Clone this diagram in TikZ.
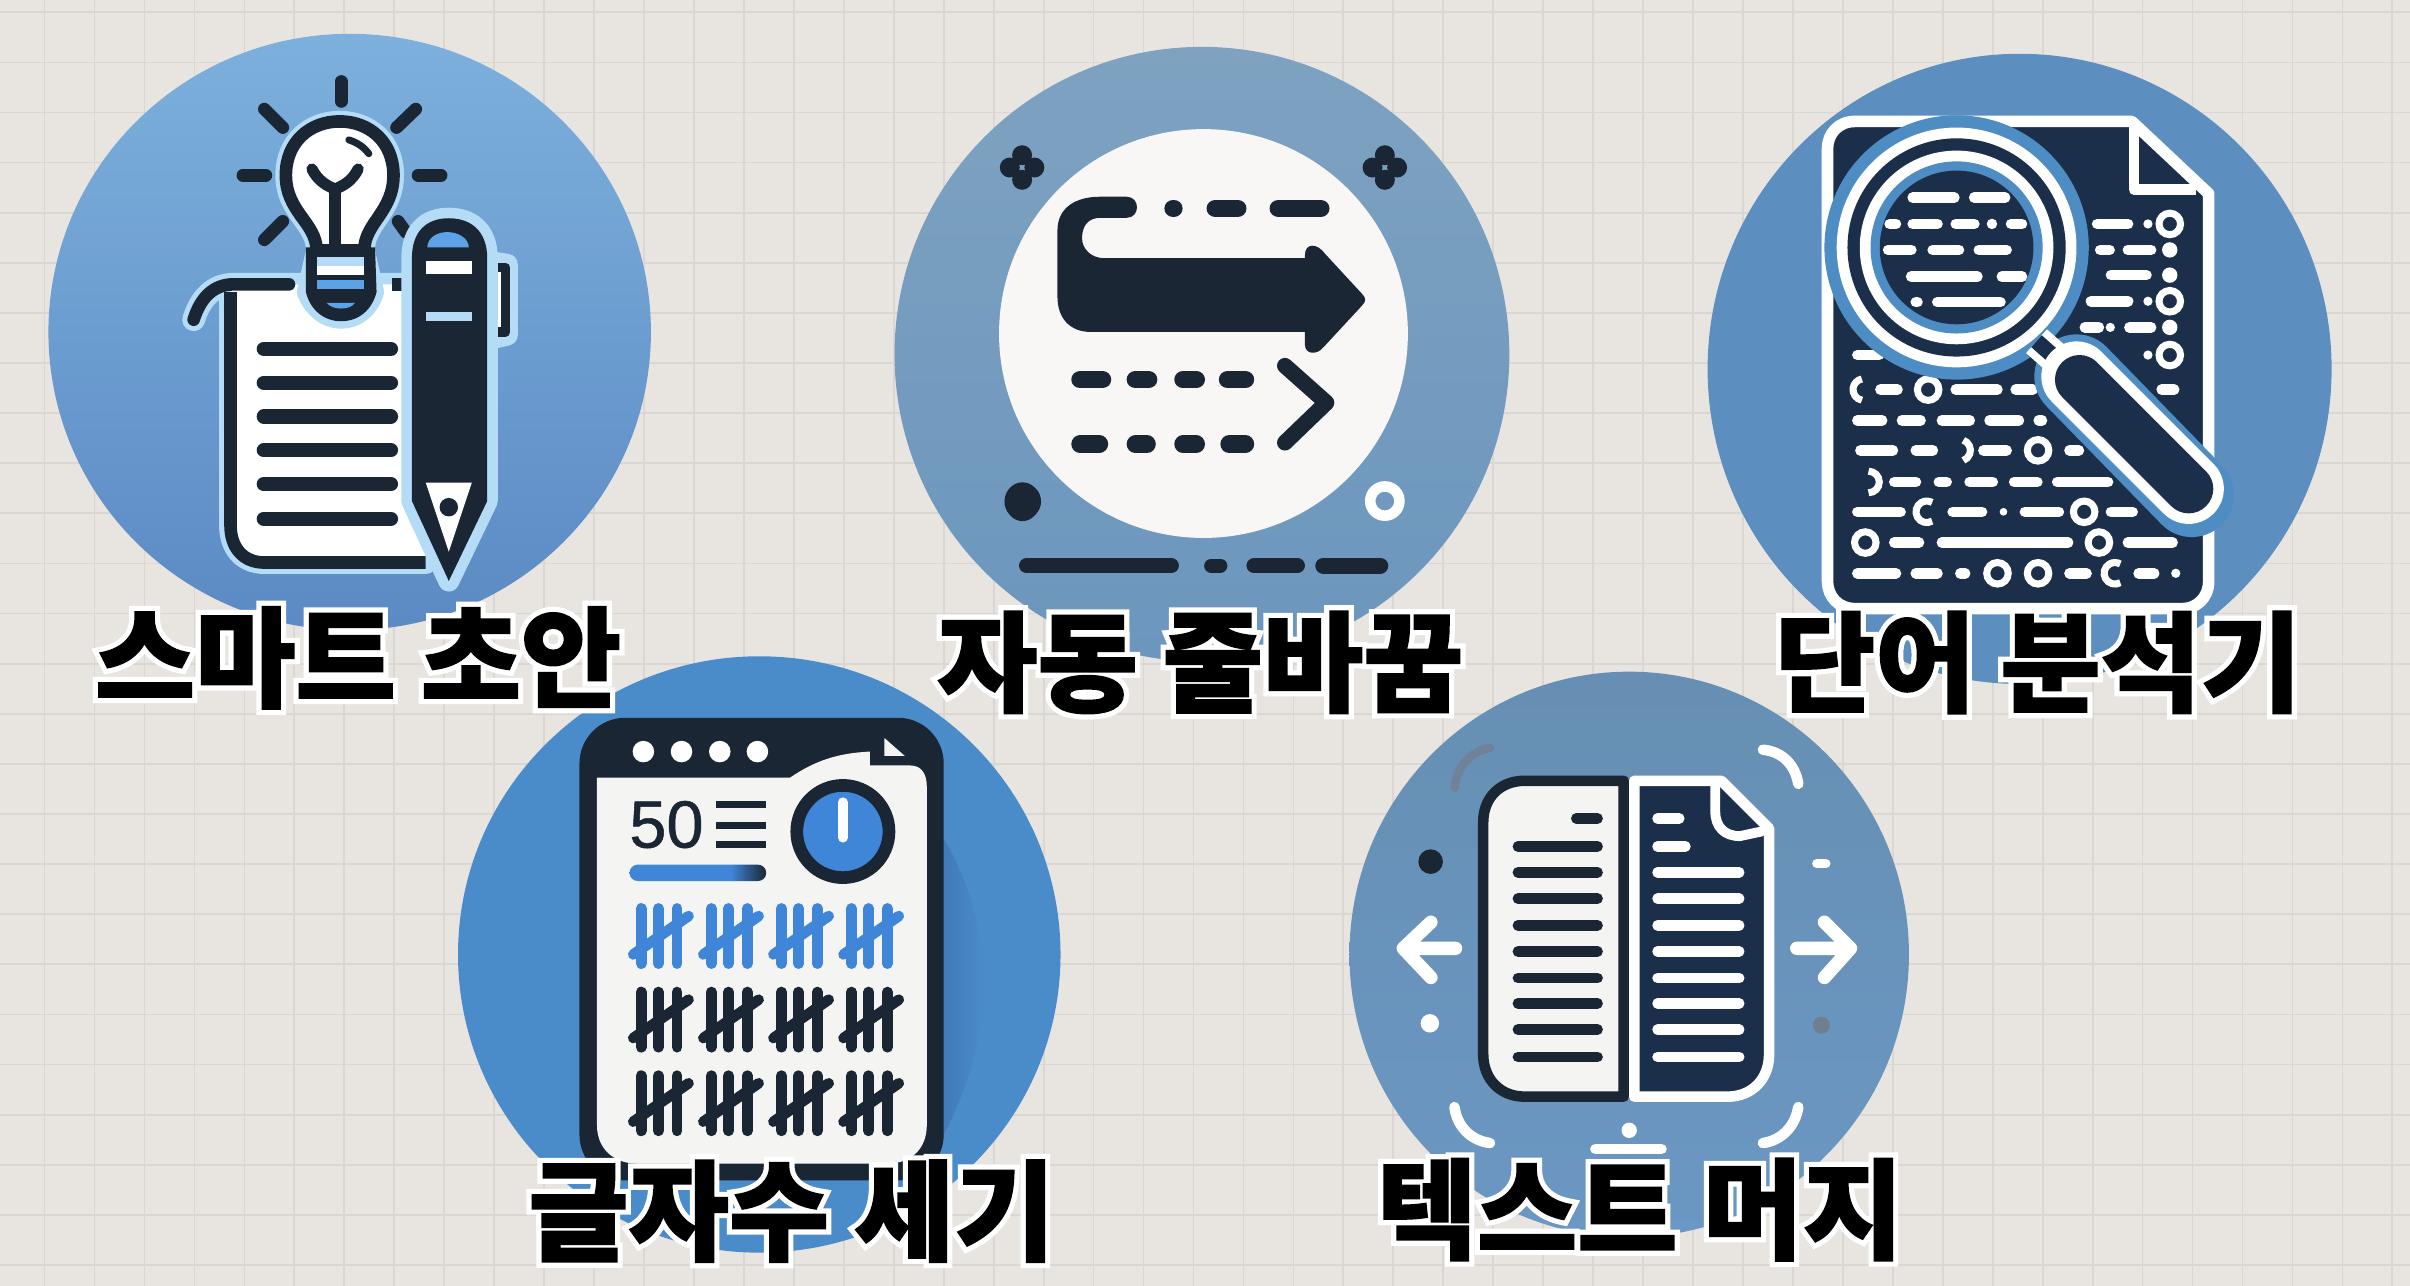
\documentclass[tikz,border=0pt]{standalone}
\usepackage{fontspec}
\newfontfamily\krfont{Noto Sans CJK KR Black}[FakeBold=1.5]
\newfontfamily\krhalo{Noto Sans CJK KR Black}[FakeBold=11]
\newfontfamily\numfont{Liberation Sans}[FakeBold=0.8]
\definecolor{paperbg}{HTML}{E8E5E1}
\definecolor{gridln}{HTML}{DAD7D2}
\definecolor{ink}{HTML}{1B2635}
\definecolor{navy}{HTML}{1C2F4A}
\definecolor{halo}{HTML}{B4DCF7}
\definecolor{midblue}{HTML}{5BA3E6}
\definecolor{tally}{HTML}{3F86D8}
\definecolor{draftA}{HTML}{7DB0DC}
\definecolor{draftB}{HTML}{5B8AC4}
\definecolor{wrapA}{HTML}{7EA2C0}
\definecolor{wrapB}{HTML}{6C96BE}
\definecolor{wordA}{HTML}{5C8FBF}
\definecolor{wordB}{HTML}{4E8CC4}
\definecolor{countA}{HTML}{4A8BC9}
\definecolor{countB}{HTML}{3F78B8}
\definecolor{mergeA}{HTML}{678FB3}
\definecolor{mergeB}{HTML}{6A97C3}
\definecolor{fadeA}{HTML}{6F8299}
\definecolor{fadeB}{HTML}{6E7F90}
\definecolor{sheet}{HTML}{F4F4F3}
\pgfdeclarehorizontalshading{barfade}{100bp}{color(0bp)=(tally);color(25bp)=(tally);color(62bp)=(tally);color(75bp)=(ink);color(100bp)=(ink)}
\tikzset{
  txtline/.style={line width=3pt,line cap=round,white,shorten >=1.5pt,shorten <=1.5pt},
  inkline/.style={line width=4pt,line cap=round,ink,shorten >=2pt,shorten <=2pt},
  lab/.style={font=\krfont\fontsize{31}{31}\selectfont,inner sep=0pt,text=black},
  labhalo/.style={font=\krhalo\fontsize{31}{31}\selectfont,inner sep=0pt,text=white},
  raydash/.style={line width=3.6pt,line cap=round,ink},
  tallymark/.style={line width=3pt,line cap=round},
}
\newcommand{\circlelabel}[3]{%
  \node[labhalo] (#1h) at #2 {#3};
  \node[lab] (#1) at #2 {#3};}
\begin{document}
\begin{tikzpicture}[x=0.01537cm,y=-0.01537cm]
  \useasboundingbox (0,0) rectangle (1568,836.7);
  \fill[paperbg] (0,0) rectangle (1568,836.7);
  % squared paper
  \foreach \i in {0,...,47} \draw[gridln,line width=0.5pt] (\i*32.5+29,0) -- (\i*32.5+29,836.7);
  \foreach \i in {0,...,25} \draw[gridln,line width=0.5pt] (0,\i*32.6+8) -- (1568,\i*32.6+8);

  % smart draft
  \shade[top color=draftA,bottom color=draftB] (227.5,216) ellipse[x radius=196,y radius=194];
  \foreach \ax/\ay/\bx/\by in {222/53/222/66,172/71/184/83,270.5/71/258/83,158/114/173/114,272/114/287/114,184/144/172/156,259/144/264/151}
    \draw[raydash] (\ax,\ay) -- (\bx,\by);
  \begin{scope}[line join=round]
    % paper
    \draw[halo,line width=6.5pt,line cap=round] (126,208) .. controls (130,195) and (138,185) .. (152,185) -- (262,185);
    \draw[halo,line width=6.5pt,line cap=round] (150,190) -- (150,342) .. controls (150,356) and (158,366) .. (172,366) -- (277,366);
    \fill[white] (150,185) -- (277,185) -- (277,366) -- (172,366) .. controls (158,366) and (150,356) .. (150,342) -- cycle;
    \draw[ink,line width=3.6pt,line cap=round] (126,208) .. controls (130,195) and (138,185) .. (152,185) -- (188,185);
    \draw[ink,line width=3.6pt] (255,185) -- (263,185);
    \draw[ink,line width=3.6pt] (150,190) -- (150,342) .. controls (150,356) and (158,366) .. (172,366) -- (277,366);
    \foreach \y in {227,249,271,293,315,337.5} \draw[inkline] (167,\y) -- (259,\y);
    % bulb
    \def\bulb{(206,163) .. controls (206,145) and (186,138) .. (186,114) .. controls (186,92) and (202,79) .. (221,79) .. controls (240,79) and (256,92) .. (256,114) .. controls (256,138) and (237,145) .. (237,163) -- (243,190) .. controls (240,200) and (232,207) .. (222,207) .. controls (212,207) and (204,200) .. (200,190) -- cycle}
    \draw[halo,line width=6pt] \bulb;
    \filldraw[fill=white,draw=ink,line width=3.6pt] (206,163) .. controls (206,145) and (186,138) .. (186,114) .. controls (186,92) and (202,79) .. (221,79) .. controls (240,79) and (256,92) .. (256,114) .. controls (256,138) and (237,145) .. (237,163) -- cycle;
    \fill[ink] (199,161) -- (244,161) -- (245,190) .. controls (242,202) and (233,209) .. (222,209) .. controls (211,209) and (202,202) .. (199,190) -- cycle;
    \fill[halo] (206,167) rectangle (237,173);
    \fill[white] (206,173) rectangle (237,179);
    \fill[midblue] (206,182) rectangle (237,188);
    \fill[midblue] (212.5,197) -- (231,197) .. controls (228,202) and (216,202) .. (212.5,197) -- cycle;
    \draw[ink,line width=3.2pt,line cap=round] (203,110) .. controls (207,118) and (213,121) .. (218,123) .. controls (223,121) and (229,118) .. (233,110);
    \draw[ink,line width=3.2pt] (218,123) -- (218,161);
    \draw[ink,line width=2pt,line cap=round] (227,91) .. controls (233,93) and (237,96) .. (240,100);
    % pen
    \draw[halo,line width=6pt] (317,170) -- (330,172) -- (330,218) -- (317,221);
    \draw[ink,line width=2.6pt,fill=white] (317,174) -- (329,174) -- (329,216) -- (317,216);
    \def\penbody{(268,168) .. controls (268,150) and (278,142) .. (292,142) .. controls (306,142) and (317,150) .. (317,168) -- (317,326) -- (292,378) -- (268,326) -- cycle}
    \draw[halo,line width=6pt] \penbody;
    \fill[ink] \penbody;
    \fill[midblue] (278,161) .. controls (278,155) and (284,151) .. (291,151) .. controls (298,151) and (305,155) .. (305,161) -- cycle;
    \fill[white] (277,170) rectangle (307,178);
    \fill[halo] (277,203) rectangle (307,209);
    \fill[white] (277,314) -- (307,314) -- (292,359) -- cycle;
    \fill[ink] (292,330) circle[radius=6];
  \end{scope}

  % auto wrap
  \shade[top color=wrapA,bottom color=wrapB] (782,230.5) circle[radius=200];
  \fill[white!70!paperbg] (783,217) circle[radius=133];
  \fill[ink] (733,128) .. controls (742,128) and (742,141.7) .. (733,141.7) -- (716,141.7) .. controls (708,141.7) and (704,147) .. (704,155) .. controls (704,162) and (710,168) .. (718.6,168) -- (849,168) -- (849,166) .. controls (849,158) and (857,158) .. (862,165) -- (886,191) .. controls (889,194) and (889,196) .. (886,199) -- (861,226) .. controls (857,231) and (849,231) .. (849,224) -- (849,216) -- (710,216) .. controls (696,216) and (688,207) .. (688,193) -- (688,150) .. controls (688,135) and (700,128) .. (715.6,128) -- cycle;
  \foreach \a/\b/\c in {758/769/135.6,785/811/135.6,826/865/135.6,697/723/247,733/753/247,764/784/247,793/816/247,697/721/289,733/752/289,764/784/289,794/816/289}
    \draw[line width=5pt,line cap=round,ink,shorten >=2.5pt,shorten <=2.5pt] (\a,\c) -- (\b,\c);
  \draw[ink,line width=4.5pt,line cap=round,line join=round] (836,238) -- (863,262) -- (836,288);
  \foreach \x in {665,901} {
    \fill[ink] (\x-8,109) circle[radius=6.5] (\x+8,109) circle[radius=6.5] (\x,101) circle[radius=6.5] (\x,117) circle[radius=6.5];}
  \fill[ink,rounded corners=5pt] (665,309) -- (682,326) -- (665,344) -- (649,326) -- cycle;
  \draw[white,line width=3pt] (901,326) circle[radius=9.5];
  \foreach \a/\b/\t in {668/762/2.2,788/794/2,816/844/2.2,861/898/2.3}
    \draw[ink,line width=\t*2pt,line cap=round] (\a,368) -- (\b,368);

  % word analyser
  \fill[wordA] (1314,240) ellipse[x radius=203,y radius=205];
  \path[fill=navy,draw=white,line width=3.3pt,line join=round] (1207,79) -- (1387,79) -- (1437,126) -- (1437,378) .. controls (1437,390) and (1428,396) .. (1420,396) -- (1207,396) .. controls (1196,396) and (1189,388) .. (1189,378) -- (1189,97) .. controls (1189,87) and (1196,79) .. (1207,79) -- cycle;
  \draw[white,line width=3pt,line join=round] (1388.4,81) -- (1388.4,123.4) -- (1429,123.4);
  \foreach \a/\b/\c in {1361/1388/145.7,1363/1376/162.6,1381/1403/162.6,1370/1400/179,1357/1388/196,1353/1369/213,1382/1403/213,1205/1226/231,1220/1238/253.5,1269/1303/253.5,1308/1326/253.5,1403/1418/253.5,1205/1228/273.5,1234/1253/273.5,1260/1285/273.5,1291/1317/273.5,1323/1332/273.5,1207/1235/293,1243/1261/293,1287/1309/293,1343/1356/293,1229/1250/313.6,1258/1270/313.6,1278/1300/313.6,1307/1329/313.6,1335/1375/313.6,1205/1240/333,1267/1293/333,1314/1343/333,1370/1391/333,1229/1252/353,1260/1349/353,1381/1417/353,1205/1237/373,1243/1264/373,1272/1282/373,1343/1361/373,1388/1405/373}
    \draw[txtline] (\a,\c) -- (\b,\c);
  \foreach \x/\y in {1411.7/145.7,1411.7/196,1411.7/231,1254.5/253.5,1326/293,1356/333,1213.6/353,1365.6/353,1299.6/373,1326/373}
    \draw[white,line width=2pt] (\x,\y) circle[radius=7];
  \foreach \x/\y/\r in {1397.5/145.7/3,1411.7/162.6/5,1411.7/179/5,1397.5/196/3,1373/213/3,1411.7/213/5,1397.5/231/3,1303.5/333/2.5,1415.6/373/3}
    \fill[white] (\x,\y) circle[radius=\r];
  \foreach \x/\y/\s/\e in {1212.6/253.5/100/260,1275/293/-70/70,1215.7/313.6/-90/90,1253.6/333/60/300,1376/373/60/300}
    \draw[white,line width=2pt] (\x,\y) ++(\s:7) arc[start angle=\s,end angle=\e,radius=7];
  % glass
  \draw[wordB,line width=24pt,line cap=round] (1351,245) -- (1426,322);
  \fill[wordB] (1273,161) circle[radius=86];
  \draw[white,line width=9pt] (1325,222) -- (1351,245);
  \draw[navy,line width=4.5pt] (1325,222) -- (1351,245);
  \draw[white,line width=20pt,line cap=round] (1351,245) -- (1424,318);
  \draw[navy,line width=14pt,line cap=round] (1353,247) -- (1424,318);
  \fill[white] (1273,161) circle[radius=78];
  \fill[navy] (1273,161) circle[radius=71];
  \fill[white] (1273,161) circle[radius=63];
  \fill[wordB] (1273,161) circle[radius=56];
  \fill[navy] (1273,161) circle[radius=50];
  \fill[white] (1296,145.7) circle[radius=3.4];
  \foreach \a/\b/\c in {1241/1275/128.6,1281/1308/128.6,1226/1237/145.7,1241/1264/145.7,1269/1288/145.7,1305/1319/145.7,1225/1247/162.6,1254/1278/162.6,1284/1309/162.6,1240/1290/180,1299/1319/180,1243/1251/196.6,1257/1305/196.6}
    \draw[txtline] (\a,\c) -- (\b,\c);

  % letter count
  \fill[countA] (494,621) ellipse[x radius=196,y radius=194];
  \shade[left color=countB,right color=countA] (610,540) .. controls (625,560) and (640,600) .. (640,640) .. controls (640,680) and (625,720) .. (610,745) -- cycle;
  \fill[ink,rounded corners=13pt] (377,467) rectangle (614,768);
  \fill[sheet] (388.4,506) -- (514,506) .. controls (530,495) and (545,490) .. (566,489) -- (566,498) -- (592,498) .. controls (600,498) and (603,504) .. (603,512) -- (603,732) .. controls (603,748) and (592,757) .. (578,757) -- (414,757) .. controls (400,757) and (388.4,748) .. (388.4,732) -- cycle;
  \filldraw[fill=sheet,draw=ink,line width=1.8pt,line join=round] (573.3,475.4) -- (594.4,494) -- (573.3,494) -- cycle;
  \foreach \x in {418.6,443.4,468.3,492.8} \fill[white] (\x,489) circle[radius=7];
  \node[font=\numfont\fontsize{19}{19}\selectfont,text=ink,inner sep=0pt] (fifty) at (433.6,536.5) {50};
  \foreach \y in {523.6,537,549.6} \draw[ink,line width=2pt] (466,\y) -- (498.5,\y);
  \filldraw[fill=tally,draw=ink,line width=3.6pt] (548.4,541) circle[radius=30];
  \draw[white,line width=2.8pt,line cap=round] (548.4,522) -- (548.4,545);
  \path[shading=barfade,rounded corners=2.3pt] (409.6,562.6) rectangle (498.5,573.2);
  \foreach \r/\col in {0/tally,1/ink,2/ink}
    \foreach \g in {0,...,3} {
      \begin{scope}[shift={(\g*45.6,\r*54.4)}]
        \draw[tallymark,\col] (417.2,591) -- (417.2,627);
        \draw[tallymark,\col] (428.4,591) -- (428.4,627);
        \draw[tallymark,\col] (440.6,591) -- (440.6,627);
        \draw[tallymark,\col] (412,621) -- (448,596);
      \end{scope}}

  % text merge
  \shade[top color=mergeA,bottom color=mergeB] (1060,621) ellipse[x radius=182,y radius=184];
  \filldraw[fill=sheet,draw=ink,line width=3pt,line join=round] (1056.4,508) -- (992,508) .. controls (976,508) and (965,519) .. (965,535) -- (965,686) .. controls (965,702) and (976,713.5) .. (992,713.5) -- (1056.4,713.5) -- cycle;
  \filldraw[fill=navy,draw=white,line width=3pt,line join=round] (1063.3,508) -- (1120,508) -- (1151,539) -- (1151,686) .. controls (1151,702) and (1140,713.5) .. (1124,713.5) -- (1063.3,713.5) -- cycle;
  \fill[navy] (1116,513) -- (1147,540) -- (1127,540) -- cycle;
  \draw[white,line width=2.8pt,line join=round,line cap=round] (1116,512) -- (1116,528) .. controls (1116,538) and (1122,544) .. (1132,544) -- (1146,541);
  \draw[inkline,line width=3pt] (1021,532.5) -- (1044,532.5);
  \foreach \y in {550.7,567.6,584.7,602,619,636.4,652.8,669.9,687.6}
    \draw[inkline,line width=3pt] (983,\y) -- (1044,\y);
  \draw[txtline] (1075,532.5) -- (1096,532.5);
  \draw[txtline] (1075,550.7) -- (1100,550.7);
  \foreach \y in {567.6,584.7,602,619,636.4,652.8,669.9,687.6}
    \draw[txtline] (1075,\y) -- (1135,\y);
  \draw[white,line width=3.8pt,line cap=round,line join=round] (947,617) -- (913,617) (931,600) -- (913,617) -- (931,636);
  \draw[white,line width=3.8pt,line cap=round,line join=round] (1169,617) -- (1203,617) (1187,600) -- (1204,617) -- (1187,636);
  \draw[fadeA,line width=2.4pt,line cap=round] (946.3,512.5) .. controls (948,498) and (957,489) .. (969.4,486.5);
  \draw[white,line width=3pt,line cap=round] (1147,487.8) .. controls (1160,489) and (1168,498) .. (1170,510);
  \draw[white,line width=3pt,line cap=round] (946.3,720.3) .. controls (948,733) and (957,742) .. (969.4,743.7);
  \draw[white,line width=3pt,line cap=round] (1170,720.3) .. controls (1168,733) and (1159,742) .. (1147,743.7);
  \fill[ink] (930.8,560.6) circle[radius=8];
  \fill[white] (930.3,665.8) circle[radius=6];
  \draw[white,line width=2.6pt,line cap=round] (1182,561.9) -- (1188,561.9);
  \fill[fadeB] (1185,667) circle[radius=5.5];
  \fill[white] (1060,735.4) circle[radius=5];
  \draw[white,line width=3pt,line cap=round] (1038,747.6) -- (1081,747.6);

  % labels
  \circlelabel{draft}{(233,428)}{스마트 초안}
  \circlelabel{wrap}{(781,431)}{자동 줄바꿈}
  \circlelabel{word}{(1326,431)}{단어 분석기}
  \circlelabel{count}{(515,788)}{글자수 세기}
  \circlelabel{merge}{(1067,787)}{텍스트 머지}
\end{tikzpicture}
\end{document}
